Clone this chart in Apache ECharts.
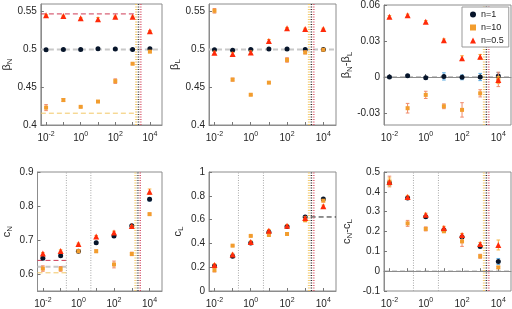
<!DOCTYPE html>
<html><head><meta charset="utf-8">
<script src="https://cdn.jsdelivr.net/npm/echarts@6/dist/echarts.min.js"></script>
<style>html,body{margin:0;padding:0;background:#fff}#c{width:512px;height:309px}</style>
</head><body><div id="c"></div>
<script>
// ---------- data ----------
const xs = [0.01, 0.1, 1, 10, 100, 1000, 10000];
const seriesNames = ['n=1', 'n=10', 'n=0.5'];

// panel 1: beta_N
const betaN_n1 = [0.4995, 0.5, 0.4998, 0.5008, 0.5004, 0.5, 0.5008];
const betaN_n1_err = [0.001, 0.001, 0.001, 0.001, 0.001, 0.001, 0.0015];
const betaN_n10 = [0.423, 0.433, 0.424, 0.431, 0.458, 0.481, 0.497];
const betaN_n10_err = [0.004, 0.002, 0.001, 0.001, 0.003, 0.001, 0.001];
const betaN_n05 = [0.545, 0.544, 0.541, 0.540, 0.543, 0.543, 0.524];
const betaN_n05_err = [0.001, 0.001, 0.001, 0.002, 0.001, 0.001, 0.001];

// panel 2: beta_L
const betaL_n1 = [0.4995, 0.499, 0.5, 0.5005, 0.5005, 0.5, 0.5];
const betaL_n1_err = [0.001, 0.001, 0.001, 0.001, 0.001, 0.001, 0.001];
const betaL_n10 = [0.551, 0.46, 0.44, 0.456, 0.486, 0.496, 0.4995];
const betaL_n10_err = [0.003, 0.002, 0.001, 0.001, 0.003, 0.002, 0.001];
const betaL_n05 = [0.4955, 0.494, 0.496, 0.511, 0.528, 0.527, 0.527];
const betaL_n05_err = [0.002, 0.002, 0.002, 0.002, 0.001, 0.001, 0.001];

// panel 3: beta_N - beta_L
const dBeta_n1 = [0, 0.001, -0.0006, 0.0005, -0.0003, 0, 0.0008];
const dBeta_n1_err = [0.0005, 0.001, 0.001, 0.003, 0.002, 0.003, 0.003];
const dBeta_n10 = [null, -0.026, -0.0149, -0.0244, -0.0274, -0.0136, -0.002];
const dBeta_n10_err = [0, 0.004, 0.003, 0.002, 0.006, 0.003, 0.006];
const dBeta_n05 = [0.0502, 0.0514, 0.046, 0.0307, 0.0157, 0.0168, -0.0025];
const dBeta_n05_err = [0.001, 0.001, 0.001, 0.001, 0.002, 0.002, 0.003];

// panel 4: c_N
const cN_n1 = [0.646, 0.654, 0.667, 0.692, 0.712, 0.742, 0.82];
const cN_n1_err = [0.003, 0.003, 0.003, 0.004, 0.004, 0.002, 0.005];
const cN_n10 = [0.616, 0.615, 0.667, 0.667, 0.628, 0.659, 0.776];
const cN_n10_err = [0.008, 0.007, 0.004, 0.004, 0.01, 0.005, 0.003];
const cN_n05 = [0.66, 0.668, 0.688, 0.71, 0.722, 0.741, 0.842];
const cN_n05_err = [0.003, 0.003, 0.003, 0.003, 0.004, 0.002, 0.008];

// panel 5: c_L
const cL_n1 = [0.211, 0.293, 0.403, 0.493, 0.542, 0.622, 0.773];
const cL_n1_err = [0.01, 0.01, 0.01, 0.01, 0.01, 0.01, 0.01];
const cL_n10 = [0.175, 0.381, 0.463, 0.471, 0.479, 0.594, 0.759];
const cL_n10_err = [0.015, 0.005, 0.005, 0.01, 0.01, 0.01, 0.01];
const cL_n05 = [0.219, 0.307, 0.411, 0.507, 0.548, 0.614, 0.712];
const cL_n05_err = [0.01, 0.01, 0.01, 0.01, 0.01, 0.01, 0.01];

// panel 6: c_N - c_L
const dC_n1 = [0.444, 0.369, 0.274, 0.208, 0.172, 0.124, 0.049];
const dC_n1_err = [0.01, 0.005, 0.005, 0.005, 0.005, 0.005, 0.015];
const dC_n10 = [0.452, 0.241, 0.213, 0.201, 0.150, 0.075, 0.019];
const dC_n10_err = [0.027, 0.015, 0.01, 0.005, 0.025, 0.01, 0.005];
const dC_n05 = [0.450, 0.374, 0.284, 0.218, 0.182, 0.137, 0.132];
const dC_n05_err = [0.02, 0.008, 0.008, 0.008, 0.008, 0.008, 0.025];

// axis ranges / ticks
const xRange = [0.005, 50000];
const yRanges = [[0.4, 0.56], [0.4, 0.56], [-0.04, 0.06], [0.55, 0.9], [0, 1], [-0.1, 0.5]];
const yTicks = [
  [0.4, 0.45, 0.5, 0.55], [0.4, 0.45, 0.5, 0.55], [-0.03, 0, 0.03, 0.06],
  [0.6, 0.7, 0.8, 0.9], [0, 0.2, 0.4, 0.6, 0.8, 1], [-0.1, 0, 0.1, 0.2, 0.3, 0.4, 0.5]
];
const yNames = ['{b|β}{s|N}', '{b|β}{s|L}', '{b|β}{s|N}{b|-β}{s|L}', '{c|c}{s|N}', '{c|c}{s|L}', '{c|c}{s|N}{c|-c}{s|L}'];

// reference lines: [panel, y, xStart, xEnd, colorKey]
const hLines = [
  [0, 0.5, 0.005, 50000, 'gray'], [0, 0.5469, 0.005, 1500, 'red'], [0, 0.4156, 0.005, 1500, 'yellow'],
  [1, 0.5, 0.005, 50000, 'gray'],
  [2, 0, 0.005, 50000, 'grayThin'],
  [3, 0.621, 0.005, 0.21, 'gray'], [3, 0.64, 0.005, 0.21, 'red'], [3, 0.6035, 0.005, 0.21, 'yellow'],
  [4, 0.622, 2000, 50000, 'black'],
  [5, 0, 0.005, 50000, 'grayThin']
];
// vertical dotted lines (x positions)
const vLinesAll = [[1500, 'yellow'], [1700, 'yellow'], [2000, 'gray'], [2250, 'black'], [2750, 'pink'], [3050, 'red']];
const vLinesBottom = [[0.21, 'gray'], [5, 'gray']];

// ---------- styling ----------
const markerColors = ['#07152a', '#f29d2e', '#ff2a0a'];
const errColors = ['#5aa9e0', '#f08a6a', '#f7b23f'];
const symbols = ['circle', 'rect', 'triangle'];
const symSizes = [5, 4, 6];
const lineColors = {gray: '#c8c8c8', grayThin: '#8a8a8a', red: '#cf3a55', yellow: '#f2c764', black: '#222', pink: '#f6a5a5'};
const FONT = 'Liberation Sans, Arial, sans-serif';

const gridPos = [
  [35, 4], [209, 4], [384, 4],
  [35, 172], [209, 172], [384, 172]
];
const GW = 127, GH = 121;

const panelData = [
  [[betaN_n1, betaN_n1_err], [betaN_n10, betaN_n10_err], [betaN_n05, betaN_n05_err]],
  [[betaL_n1, betaL_n1_err], [betaL_n10, betaL_n10_err], [betaL_n05, betaL_n05_err]],
  [[dBeta_n1, dBeta_n1_err], [dBeta_n10, dBeta_n10_err], [dBeta_n05, dBeta_n05_err]],
  [[cN_n1, cN_n1_err], [cN_n10, cN_n10_err], [cN_n05, cN_n05_err]],
  [[cL_n1, cL_n1_err], [cL_n10, cL_n10_err], [cL_n05, cL_n05_err]],
  [[dC_n1, dC_n1_err], [dC_n10, dC_n10_err], [dC_n05, dC_n05_err]]
];

const grids = [], xAxes = [], yAxes = [], series = [];

gridPos.forEach((p, gi) => {
  grids.push({left: p[0], top: p[1], width: GW, height: GH, show: true, borderColor: '#8c8c8c', borderWidth: 1, backgroundColor: 'transparent'});
  xAxes.push({
    type: 'log', logBase: 10, gridIndex: gi, min: xRange[0], max: xRange[1],
    axisLine: {show: true, lineStyle: {color: '#8c8c8c'}},
    axisTick: {show: true, inside: true, length: 3, lineStyle: {color: '#777'}},
    splitLine: {show: false}, minorTick: {show: false},
    axisLabel: {
      showMinLabel: false, showMaxLabel: false, color: '#262626', fontSize: 10, fontFamily: FONT, margin: 6,
      formatter: v => {
        const l = Math.log10(v), e = Math.round(l);
        if (Math.abs(l - e) > 1e-6 || e % 2 !== 0) return '';
        return '{t|10}{sup|' + e + '}';
      },
      rich: {t: {fontSize: 10, fontFamily: FONT, color: '#262626'}, sup: {fontSize: 7, fontFamily: FONT, color: '#262626', padding: [0, 0, 7, 0]}}
    }
  });
  yAxes.push({
    type: 'value', gridIndex: gi, min: yRanges[gi][0], max: yRanges[gi][1],
    axisLine: {show: true, lineStyle: {color: '#8c8c8c'}},
    axisTick: {show: true, inside: true, length: 3, customValues: yTicks[gi], lineStyle: {color: '#777'}},
    splitLine: {show: false},
    axisLabel: {customValues: yTicks[gi], color: '#262626', fontSize: 10, fontFamily: FONT, margin: 4,
      formatter: v => String(Math.round(v * 1000) / 1000)},
    name: yNames[gi], nameLocation: 'middle', nameRotate: 90, nameGap: gi === 2 || gi === 5 ? 30 : 24,
    nameTextStyle: {
      color: '#262626', fontFamily: FONT,
      rich: {
        b: {fontSize: 11, fontFamily: FONT, color: '#262626'},
        c: {fontSize: 11, fontFamily: FONT, color: '#262626'},
        s: {fontSize: 8, fontFamily: FONT, color: '#262626', padding: [6, 0, 0, 0]}
      }
    }
  });

  // reference horizontal lines
  hLines.filter(h => h[0] === gi).forEach(h => {
    series.push({
      type: 'line', xAxisIndex: gi, yAxisIndex: gi, silent: true, symbol: 'none', z: 1,
      data: [[h[2], h[1]], [h[3], h[1]]],
      lineStyle: {color: lineColors[h[4]], width: h[4] === 'gray' ? 2 : 1, type: [5, 3]}
    });
  });
  // vertical dotted lines
  const vl = gi >= 3 ? vLinesAll.concat(vLinesBottom) : vLinesAll;
  vl.forEach(v => {
    series.push({
      type: 'line', xAxisIndex: gi, yAxisIndex: gi, silent: true, symbol: 'none', z: 1,
      data: [[v[0], yRanges[gi][0]], [v[0], yRanges[gi][1]]],
      lineStyle: {color: v[1] === 'gray' ? '#a8a8a8' : lineColors[v[1]], width: 1, type: [1, 1.5]}
    });
  });

  // error bars + markers
  panelData[gi].forEach((sd, si) => {
    const ys = sd[0], es = sd[1];
    const col = errColors[si];
    series.push({
      type: 'custom', xAxisIndex: gi, yAxisIndex: gi, silent: true, z: 2 + si * 2,
      data: xs.map((x, i) => ys[i] == null ? null : [x, ys[i], es[i]]).filter(Boolean),
      encode: {x: 0, y: 1},
      renderItem: (params, api) => {
        const x = api.value(0), y = api.value(1), e = api.value(2);
        const p1 = api.coord([x, y + e]), p2 = api.coord([x, y - e]);
        const w = 1.8;
        const st = {stroke: col, lineWidth: 1};
        return {type: 'group', children: [
          {type: 'line', shape: {x1: p1[0], y1: p1[1], x2: p2[0], y2: p2[1]}, style: st},
          {type: 'line', shape: {x1: p1[0] - w, y1: p1[1], x2: p1[0] + w, y2: p1[1]}, style: st},
          {type: 'line', shape: {x1: p2[0] - w, y1: p2[1], x2: p2[0] + w, y2: p2[1]}, style: st}
        ]};
      }
    });
    series.push({
      type: 'scatter', name: seriesNames[si], xAxisIndex: gi, yAxisIndex: gi, z: 3 + si * 2,
      symbol: symbols[si], symbolSize: symSizes[si],
      itemStyle: {color: markerColors[si], opacity: 1},
      data: xs.map((x, i) => ys[i] == null ? null : [x, ys[i]]).filter(Boolean)
    });
  });
});

const chart = echarts.init(document.getElementById('c'), null, {renderer: 'canvas'});
chart.setOption({
  animation: false,
  backgroundColor: '#fff',
  textStyle: {fontFamily: FONT},
  grid: grids, xAxis: xAxes, yAxis: yAxes, series: series,
  legend: {
    data: [{name: 'n=1', icon: 'circle'}, {name: 'n=10', icon: 'rect'}, {name: 'n=0.5', icon: 'triangle'}],
    left: 462, top: 7, orient: 'vertical', itemWidth: 6, itemHeight: 6, itemGap: 4,
    padding: [3, 5, 2, 8], backgroundColor: '#fff', borderColor: '#999', borderWidth: 1, borderRadius: 0,
    textStyle: {fontSize: 9, color: '#222', fontFamily: FONT}, selectedMode: false
  }
});
</script></body></html>
